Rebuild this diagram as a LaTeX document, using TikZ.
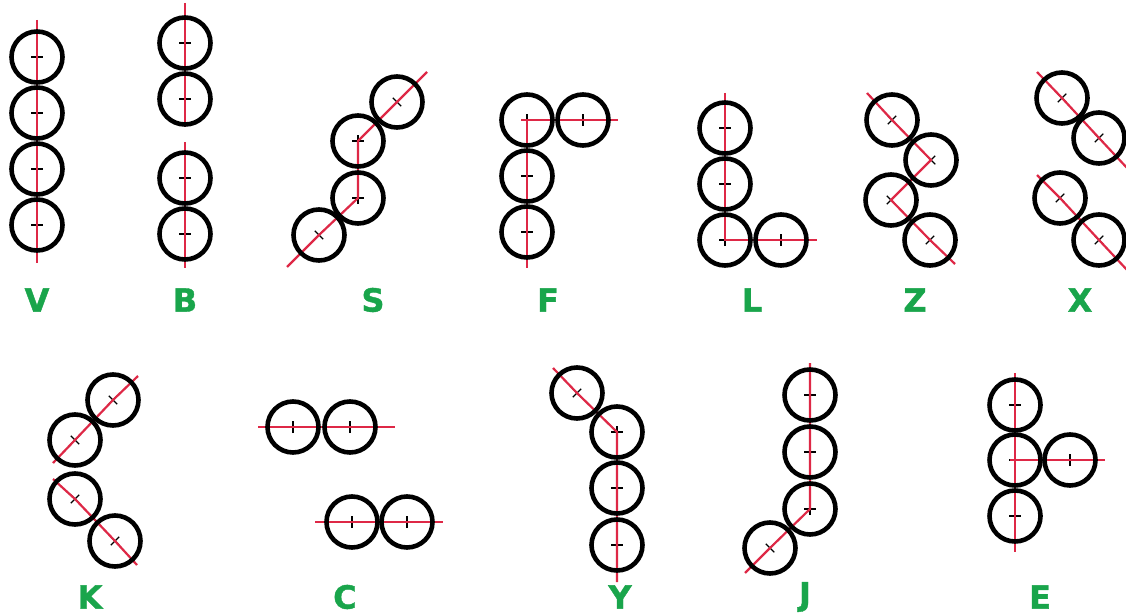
\documentclass[tikz,border=0pt]{standalone}
\usepackage{fontspec}
\newfontfamily\letterfont{DejaVu Sans}[BoldFeatures={FakeBold=1.2}]
\usetikzlibrary{backgrounds}
\definecolor{axisred}{RGB}{222,40,70}
\definecolor{lettergreen}{RGB}{25,165,75}
\tikzset{
  ring/.style={circle,draw=black,line width=4.6pt,minimum size=51pt,inner sep=0pt},
  axisline/.style={draw=axisred,line width=2.2pt},
  tickmark/.style={draw=black,line width=1.2pt},
  letter/.style={text=lettergreen,inner sep=0pt,font=\letterfont\bfseries\fontsize{32pt}{32pt}\selectfont},
  cross/.pic={\draw[tickmark] (-6,0) -- (6,0) (0,-6) -- (0,6);}
}
\begin{document}
\begin{tikzpicture}[x=1pt,y=1pt]
\useasboundingbox (0,0) rectangle (1126,-615);

% ---------- top row ----------
% V
\node[ring] (v1) at (37,-57) {};
\node[ring] (v2) at (37,-113) {};
\node[ring] (v3) at (37,-169) {};
\node[ring] (v4) at (37,-225) {};
\coordinate (vt) at (37,-20);
\coordinate (vb) at (37,-263);
% B
\node[ring] (b1) at (185,-43) {};
\node[ring] (b2) at (185,-99) {};
\node[ring] (b3) at (185,-178) {};
\node[ring] (b4) at (185,-234) {};
\coordinate (bt) at (185,-3);
\coordinate (bm1) at (185,-127);
\coordinate (bm2) at (185,-142);
\coordinate (bb) at (185,-268);
% S
\node[ring] (s1) at (319,-235) {};
\node[ring] (s2) at (358,-198) {};
\node[ring] (s3) at (358,-141) {};
\node[ring] (s4) at (397,-102) {};
\coordinate (sa) at (287,-267);
\coordinate (sb) at (427,-72);
% F
\node[ring] (f1) at (527,-120) {};
\node[ring] (f2) at (583,-120) {};
\node[ring] (f3) at (527,-176) {};
\node[ring] (f4) at (527,-232) {};
\coordinate (fb) at (527,-268);
\coordinate (fl) at (521,-120);
\coordinate (fr) at (618,-120);
% L
\node[ring] (l1) at (725,-128) {};
\node[ring] (l2) at (725,-184) {};
\node[ring] (l3) at (725,-240) {};
\node[ring] (l4) at (781,-240) {};
\coordinate (lt) at (725,-93);
\coordinate (lr) at (817,-240);
% Z
\node[ring] (z1) at (892,-120) {};
\node[ring] (z2) at (931,-160) {};
\node[ring] (z3) at (891,-200) {};
\node[ring] (z4) at (930,-240) {};
\coordinate (za) at (867,-93);
\coordinate (zb) at (955,-264);
% X
\node[ring] (x1) at (1062,-98) {};
\node[ring] (x2) at (1099,-138) {};
\node[ring] (x3) at (1060,-198) {};
\node[ring] (x4) at (1099,-240) {};
\coordinate (xa) at (1037,-72);
\coordinate (xb) at (1128,-169);
\coordinate (xc) at (1037,-175);
\coordinate (xd) at (1128,-271);

% ---------- bottom row ----------
% K
\node[ring] (k1) at (113,-400) {};
\node[ring] (k2) at (75,-440) {};
\node[ring] (k3) at (75,-499) {};
\node[ring] (k4) at (115,-541) {};
\coordinate (ka) at (53,-463);
\coordinate (kb) at (138,-376);
\coordinate (kc) at (53,-479);
\coordinate (kd) at (137,-565);
% C
\node[ring] (c1) at (293,-427) {};
\node[ring] (c2) at (350,-427) {};
\node[ring] (c3) at (352,-522) {};
\node[ring] (c4) at (407,-522) {};
\coordinate (ca) at (258,-427);
\coordinate (cb) at (395,-427);
\coordinate (cc) at (315,-522);
\coordinate (cd) at (443,-522);
% Y
\node[ring] (y1) at (577,-393) {};
\node[ring] (y2) at (617,-432) {};
\node[ring] (y3) at (617,-488) {};
\node[ring] (y4) at (617,-545) {};
\coordinate (ya) at (553,-368);
\coordinate (yb) at (617,-582);
% J
\node[ring] (j1) at (810,-395) {};
\node[ring] (j2) at (810,-452) {};
\node[ring] (j3) at (810,-509) {};
\node[ring] (j4) at (770,-548) {};
\coordinate (ja) at (810,-363);
\coordinate (jb) at (745,-573);
% E
\node[ring] (e1) at (1015,-405) {};
\node[ring] (e2) at (1015,-460) {};
\node[ring] (e3) at (1015,-516) {};
\node[ring] (e4) at (1070,-460) {};
\coordinate (ea) at (1015,-373);
\coordinate (eb) at (1015,-552);
\coordinate (ed) at (1010,-460);
\coordinate (ec) at (1105,-460);

% ---------- centre marks and axes (behind the rings) ----------
\begin{pgfonlayer}{background}
  \fill[white] (0,0) rectangle (1126,-615);
  \foreach \n in {v1,v2,v3,v4,b1,b2,b3,b4,s2,s3,f1,f2,f3,f4,l1,l2,l3,l4,
                  c1,c2,c3,c4,y2,y3,y4,j1,j2,j3,e1,e2,e3,e4}
    \pic at (\n) {cross};
  \foreach \n in {s1,s4,z1,z2,z3,z4,x1,x2,x3,x4,k1,k2,k3,k4,y1,j4}
    \pic[rotate=45] at (\n) {cross};

  \draw[axisline] (vt) -- (vb);
  \draw[axisline] (bt) -- (bm1);
  \draw[axisline] (bm2) -- (bb);
  \draw[axisline] (sa) -- (s1.center) -- (s2.center) -- (s3.center) -- (s4.center) -- (sb);
  \draw[axisline] (f1.center) -- (fb);
  \draw[axisline] (fl) -- (fr);
  \draw[axisline] (lt) -- (l3.center) -- (lr);
  \draw[axisline] (za) -- (z1.center) -- (z2.center) -- (z3.center) -- (z4.center) -- (zb);
  \draw[axisline] (xa) -- (x1.center) -- (x2.center) -- (xb);
  \draw[axisline] (xc) -- (x3.center) -- (x4.center) -- (xd);
  \draw[axisline] (ka) -- (k2.center) -- (k1.center) -- (kb);
  \draw[axisline] (kc) -- (k3.center) -- (k4.center) -- (kd);
  \draw[axisline] (ca) -- (cb);
  \draw[axisline] (cc) -- (cd);
  \draw[axisline] (ya) -- (y1.center) -- (y2.center) -- (yb);
  \draw[axisline] (ja) -- (j3.center) -- (j4.center) -- (jb);
  \draw[axisline] (ea) -- (eb);
  \draw[axisline] (ed) -- (ec);
\end{pgfonlayer}

% ---------- letters ----------
\node[letter] (lv) at (37,-300) {V};
\node[letter] (lb) at (185,-300) {B};
\node[letter] (ls) at (373,-300) {S};
\node[letter] (lf) at (548,-300) {F};
\node[letter] (ll) at (752,-300) {L};
\node[letter] (lz) at (915,-300) {Z};
\node[letter] (lx) at (1080,-300) {X};
\node[letter] (lk) at (90,-597) {K};
\node[letter] (lc) at (345,-597) {C};
\node[letter] (ly) at (620,-597) {Y};
\node[letter] (lj) at (805,-597) {J};
\node[letter] (le) at (1040,-597) {E};
\end{tikzpicture}
\end{document}
